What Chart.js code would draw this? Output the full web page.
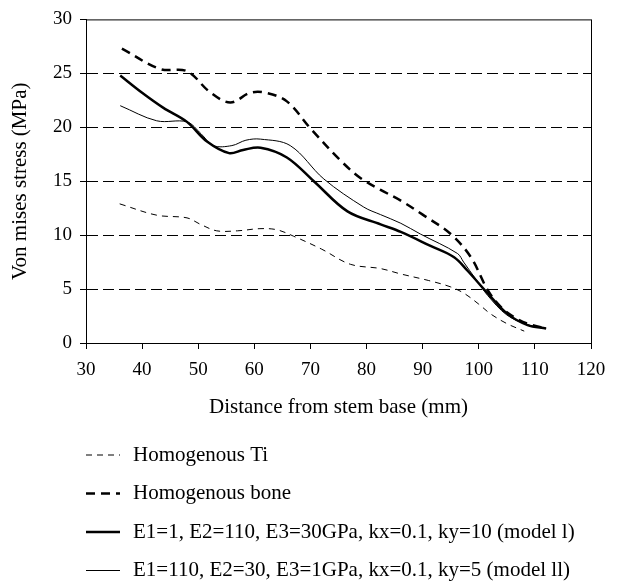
<!DOCTYPE html>
<html>
<head>
<meta charset="utf-8">
<script src="https://cdn.jsdelivr.net/npm/chart.js@4.4.1/dist/chart.umd.min.js"></script>
<style>
  html, body { margin: 0; padding: 0; background: #fff; }
  #wrap { width: 620px; height: 584px; }
</style>
</head>
<body>
<div id="wrap"><canvas id="stressChart" width="620" height="584"></canvas></div>
<script>
// Series: distance (mm) and von Mises stress (MPa)
const tiX = [36, 42.6, 48, 50.4, 53.3, 57, 61, 64, 67, 72, 77.1, 82.5, 86.1, 91, 95, 97.4, 100, 102.1, 105, 108.1];
const tiY = [12.9, 11.85, 11.6, 11.0, 10.4, 10.4, 10.6, 10.5, 9.9, 8.7, 7.3, 6.9, 6.4, 5.8, 5.2, 4.6, 3.6, 2.7, 1.8, 1.1];

const boneX = [36.4, 43.2, 48, 52, 55.7, 59.3, 62, 65.8, 70, 75.4, 78.9, 82.5, 86.1, 90, 95, 98.6, 101.6, 104, 106.3, 108.7, 112];
const boneY = [27.3, 25.4, 25.2, 23.3, 22.3, 23.2, 23.2, 22.4, 19.9, 16.9, 15.3, 14.2, 13.2, 11.9, 10.1, 7.95, 4.9, 3.3, 2.4, 1.8, 1.35];

const model1X = [36.1, 40, 43.8, 48, 51.5, 55.5, 58, 61.1, 65.8, 70.6, 76.6, 82.5, 86.1, 91.4, 95.6, 98, 101.6, 105.1, 108.7, 112];
const model1Y = [24.8, 23.2, 21.8, 20.5, 18.7, 17.6, 17.9, 18.1, 17.2, 15.0, 12.2, 11.0, 10.3, 9.0, 7.95, 6.7, 4.6, 2.7, 1.66, 1.35];

const model2X = [36.1, 42.6, 48, 50.5, 52.7, 56, 58.5, 61.1, 66.4, 72.4, 79.5, 82.5, 86.1, 89.6, 96.2, 97.3, 99.5, 101.6, 105, 108.7, 112];
const model2Y = [22.0, 20.6, 20.5, 19.4, 18.3, 18.3, 18.8, 18.9, 18.3, 15.2, 12.6, 11.9, 11.1, 10.1, 8.3, 7.5, 5.9, 4.4, 2.6, 1.7, 1.35];

const seriesLabels = [
  "Homogenous Ti",
  "Homogenous bone",
  "E1=1, E2=110, E3=30GPa, kx=0.1, ky=10 (model l)",
  "E1=110, E2=30, E3=1GPa, kx=0.1, ky=5 (model ll)",
];

const FONT = "'Liberation Serif', 'DejaVu Serif', serif";

function toPoints(xs, ys) {
  return xs.map((x, i) => ({ x: x, y: ys[i] }));
}

// Box round the plot area plus a hand-drawn legend below the axes
const framePlugin = {
  id: "frame",
  afterDraw(chart) {
    const ctx = chart.ctx;
    const a = chart.chartArea;
    ctx.save();
    ctx.strokeStyle = "#000";
    ctx.lineWidth = 1;
    ctx.setLineDash([]);
    ctx.strokeRect(a.left + 0.5, a.top + 0.5, a.right - a.left, a.bottom - a.top);

    chart.data.datasets.forEach((ds, i) => {
      const y = 455 + i * 38.5;
      ctx.beginPath();
      ctx.lineWidth = ds.borderWidth;
      ctx.setLineDash(ds.borderDash || []);
      ctx.moveTo(86, y);
      ctx.lineTo(120, y);
      ctx.stroke();
      ctx.setLineDash([]);
      ctx.fillStyle = "#000";
      ctx.font = "21px " + FONT;
      ctx.textBaseline = "middle";
      ctx.fillText(ds.label, 133, y);
    });
    ctx.restore();
  },
};

const ctx = document.getElementById("stressChart").getContext("2d");
new Chart(ctx, {
  type: "line",
  data: {
    datasets: [
      {
        label: seriesLabels[0],
        data: toPoints(tiX, tiY),
        borderColor: "#000",
        borderWidth: 1,
        borderDash: [6, 5],
      },
      {
        label: seriesLabels[1],
        data: toPoints(boneX, boneY),
        borderColor: "#000",
        borderWidth: 2.5,
        borderDash: [9, 6],
      },
      {
        label: seriesLabels[2],
        data: toPoints(model1X, model1Y),
        borderColor: "#000",
        borderWidth: 2.5,
      },
      {
        label: seriesLabels[3],
        data: toPoints(model2X, model2Y),
        borderColor: "#000",
        borderWidth: 1,
      },
    ],
  },
  options: {
    responsive: false,
    animation: false,
    parsing: false,
    elements: { point: { radius: 0 }, line: { tension: 0.35, fill: false } },
    layout: { padding: { left: 4, right: 29, top: 17, bottom: 160 } },
    plugins: { legend: { display: false }, tooltip: { enabled: false } },
    scales: {
      x: {
        type: "linear",
        min: 30,
        max: 120,
        afterFit: (s) => { s.height = 81; },
        ticks: { stepSize: 10, color: "#000", padding: 10, font: { family: FONT, size: 19 } },
        grid: { drawOnChartArea: false, drawTicks: true, tickLength: 6, tickColor: "#000" },
        border: { color: "#000", width: 1 },
        title: {
          display: true,
          text: "Distance from stem base (mm)",
          color: "#000",
          font: { family: FONT, size: 21 },
          padding: { top: 14, bottom: 4 },
        },
      },
      y: {
        min: 0,
        max: 30,
        afterFit: (s) => { s.width = 82; },
        ticks: { stepSize: 5, color: "#000", padding: 8, font: { family: FONT, size: 19 } },
        grid: {
          color: (c) => (c.tick && (c.tick.value === 0 || c.tick.value === 30) ? "rgba(0,0,0,0)" : "#000"),
          tickColor: "#000",
          tickLength: 6,
          lineWidth: 1,
        },
        border: { color: "#000", width: 1, dash: [11, 5] },
        title: {
          display: true,
          text: "Von mises stress (MPa)",
          color: "#000",
          font: { family: FONT, size: 21 },
          padding: { top: 4, bottom: 4 },
        },
      },
    },
  },
  plugins: [framePlugin],
});
</script>
</body>
</html>
